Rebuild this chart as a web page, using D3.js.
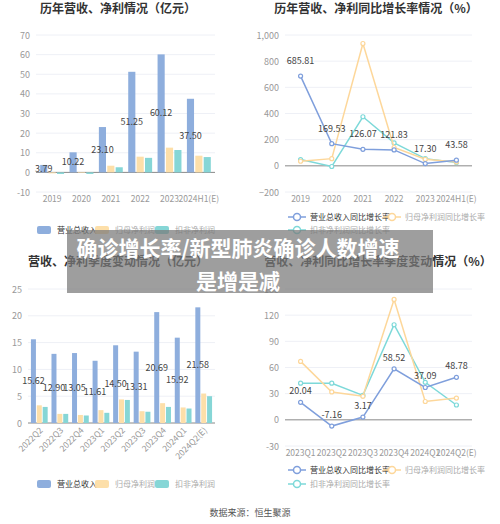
<!DOCTYPE html>
<html><head><meta charset="utf-8">
<script src="https://cdn.jsdelivr.net/npm/d3@7"></script>
<style>body{margin:0;background:#fff}svg{font-family:"Noto Sans CJK SC","Noto Sans",sans-serif}</style>
</head><body><svg id="c" width="500" height="524"></svg>
<script>
// annual
const years = ['2019','2020','2021','2022','2023','2024H1(E)'];
const yearRevenue = [3.79, 10.22, 23.10, 51.25, 60.12, 37.50];
const yearNet = [-0.5, -0.3, 3.4, 8.0, 12.6, 8.5];
const yearDeduct = [-0.8, -0.8, 2.6, 7.4, 11.4, 7.8];
const yearRevenueG = [685.81, 169.53, 126.07, 121.83, 17.30, 43.58];
const yearNetG = [35, 55, 935, 140, 50, 30];
const yearDeductG = [48, -5, 375, 175, 55, 25];
// quarterly
const quarters = ['2022Q2','2022Q3','2022Q4','2023Q1','2023Q2','2023Q3','2023Q4','2024Q1','2024Q2(E)'];
const qRevenue = [15.62, 12.90, 13.05, 11.61, 14.50, 13.31, 20.69, 15.92, 21.58];
const qNet = [3.3, 1.7, 1.5, 2.4, 4.4, 2.2, 3.7, 2.9, 5.5];
const qDeduct = [3.0, 1.7, 1.4, 1.9, 4.3, 2.1, 3.0, 2.7, 5.0];
const gQuarters = ['2023Q1','2023Q2','2023Q3','2023Q4','2024Q1','2024Q2(E)'];
const gRevenue = [20.04, -7.16, 3.17, 58.52, 37.09, 48.78];
const gNet = [67, 32, 27, 138, 21, 25];
const gDeduct = [42, 42, 28, 109, 43, 17];

const C = ['#8eaedd', '#fddfa9', '#86d6d6'];
const LC = ['#7f9fdc', '#fdd79a', '#7dd9d9'];
const svg = d3.select('#c');

function frame(o) {
  const g = svg.append('g');
  g.append('text').attr('x', o.tx).attr('y', o.ty).attr('text-anchor', 'middle')
    .attr('font-size', 12).attr('font-weight', 'bold').attr('fill', '#333').text(o.title);
  const y = d3.scaleLinear().domain(o.dom).range([o.y1, o.y0]);
  o.ticks.forEach(t => {
    g.append('line').attr('x1', o.x0).attr('x2', o.x1).attr('y1', y(t)).attr('y2', y(t))
      .attr('stroke', t === 0 ? '#888' : '#eef0f6');
    g.append('text').attr('x', o.x0 - 6).attr('y', y(t) + 3.5).attr('text-anchor', 'end')
      .attr('font-size', 9).attr('fill', '#999').text(o.fmt ? o.fmt(t) : t);
  });
  return {g, y};
}

function legend(g, items, rows, boxes) {
  items.forEach((it, i) => {
    const [x, yy] = rows[i];
    if (boxes) {
      g.append('rect').attr('x', x).attr('y', yy - 4).attr('width', 14).attr('height', 8).attr('rx', 2).attr('fill', C[i]);
    } else {
      g.append('line').attr('x1', x - 2).attr('x2', x + 16).attr('y1', yy).attr('y2', yy).attr('stroke', LC[i]).attr('stroke-width', 1.5);
      g.append('circle').attr('cx', x + 7).attr('cy', yy).attr('r', 3.5).attr('fill', '#fff').attr('stroke', LC[i]).attr('stroke-width', 1.5);
    }
    g.append('text').attr('x', x + 20).attr('y', yy + 3).attr('font-size', 8)
      .attr('fill', i === 0 ? '#333' : '#aaa').text(it);
  });
}

function bars(o, cats, series, labels, rot) {
  const {g, y} = frame(o);
  const x = d3.scaleBand().domain(cats).range([o.x0, o.x1]).padding(0.1);
  const sub = d3.scaleBand().domain([0, 1, 2]).range([0, x.bandwidth()]).padding(0.15);
  series.forEach((s, si) => {
    g.selectAll(null).data(s).enter().append('rect')
      .attr('x', (d, i) => x(cats[i]) + sub(si)).attr('width', sub.bandwidth())
      .attr('y', d => y(Math.max(0, d))).attr('height', d => Math.abs(y(d) - y(0)))
      .attr('fill', C[si]);
  });
  g.selectAll(null).data(labels).enter().append('text')
    .attr('x', (d, i) => x(cats[i]) + sub(0) + sub.bandwidth() / 2)
    .attr('y', d => y(d / 2) + 3).attr('text-anchor', 'middle').attr('font-size', 9).attr('fill', '#444')
    .text(d => d.toFixed(2));
  cats.forEach(c => {
    const cx = x(c) + x.bandwidth() / 2;
    const t = g.append('text').attr('font-size', 8.5).attr('fill', '#999').text(c);
    if (rot) t.attr('transform', `translate(${cx + 4},${y(0) + 8}) rotate(-45)`).attr('text-anchor', 'end');
    else t.attr('x', cx).attr('y', y(0) + 30).attr('text-anchor', 'middle');
  });
  return g;
}

function lines(o, cats, series, labels, labelDy) {
  const {g, y} = frame(o);
  const x = d3.scalePoint().domain(cats).range([o.x0, o.x1]).padding(0.5);
  series.slice().reverse().forEach((s, ri) => {
    const si = series.length - 1 - ri;
    g.append('path').datum(s).attr('fill', 'none').attr('stroke', LC[si]).attr('stroke-width', 1.5)
      .attr('d', d3.line().x((d, i) => x(cats[i])).y(d => y(d)));
    g.selectAll(null).data(s).enter().append('circle')
      .attr('cx', (d, i) => x(cats[i])).attr('cy', d => y(d)).attr('r', 2)
      .attr('fill', '#fff').attr('stroke', LC[si]).attr('stroke-width', 1.2);
  });
  g.selectAll(null).data(labels).enter().append('text')
    .attr('x', (d, i) => x(cats[i])).attr('y', d => y(d) - labelDy).attr('text-anchor', 'middle')
    .attr('font-size', 9).attr('fill', '#444').text(d => d.toFixed(2));
  cats.forEach(c => g.append('text').attr('x', x(c)).attr('y', o.y1 + 10).attr('text-anchor', 'middle')
    .attr('font-size', 8.5).attr('fill', '#999').text(c));
  return g;
}

const barLeg = ['营业总收入', '归母净利润', '扣非净利润'];
const lineLeg = ['营业总收入同比增长率', '归母净利润同比增长率', '扣非净利润同比增长率'];

const g1 = bars({title: '历年营收、净利情况（亿元）', tx: 118, ty: 13, x0: 36, x1: 215, y0: 35, y1: 192,
  dom: [-10, 70], ticks: [-10, 0, 10, 20, 30, 40, 50, 60, 70]},
  years, [yearRevenue, yearNet, yearDeduct], yearRevenue, false);
legend(g1, barLeg, [[37, 230], [95, 230], [155, 230]], true);

const g2 = lines({title: '历年营收、净利同比增长率情况（%）', tx: 376, ty: 13, x0: 285, x1: 472, y0: 35, y1: 192,
  dom: [-200, 1000], ticks: [-200, 0, 200, 400, 600, 800, 1000], fmt: d3.format(',')},
  years, [yearRevenueG, yearNetG, yearDeductG], yearRevenueG, 12);
legend(g2, lineLeg, [[290, 217], [385, 217], [290, 230]], false);

const g3 = bars({title: '营收、净利季度变动情况（亿元）', tx: 118, ty: 266, x0: 28, x1: 215, y0: 289, y1: 423,
  dom: [0, 25], ticks: [0, 5, 10, 15, 20, 25]},
  quarters, [qRevenue, qNet, qDeduct], qRevenue, true);
legend(g3, barLeg, [[37, 484], [95, 484], [155, 484]], true);

const g4 = lines({title: '营收、净利同比增长率季度变动情况（%）', tx: 378, ty: 266, x0: 285, x1: 472, y0: 289, y1: 446,
  dom: [-30, 150], ticks: [-30, 0, 30, 60, 90, 120, 150]},
  gQuarters, [gRevenue, gNet, gDeduct], gRevenue, 8);
legend(g4, lineLeg, [[290, 470], [385, 470], [290, 484]], false);

svg.append('text').attr('x', 250).attr('y', 516).attr('text-anchor', 'middle').attr('font-size', 9)
  .attr('fill', '#555').text('数据来源：恒生聚源');

// banner overlay
svg.append('rect').attr('x', 67).attr('y', 230).attr('width', 366).attr('height', 63).attr('fill', 'rgba(120,120,120,0.72)');
svg.append('text').attr('x', 238).attr('y', 256).attr('text-anchor', 'middle').attr('font-size', 21)
  .attr('font-weight', 'bold').attr('fill', '#fff').text('确诊增长率/新型肺炎确诊人数增速');
svg.append('text').attr('x', 238).attr('y', 289).attr('text-anchor', 'middle').attr('font-size', 21)
  .attr('font-weight', 'bold').attr('fill', '#fff').text('是增是减');
</script></body></html>
